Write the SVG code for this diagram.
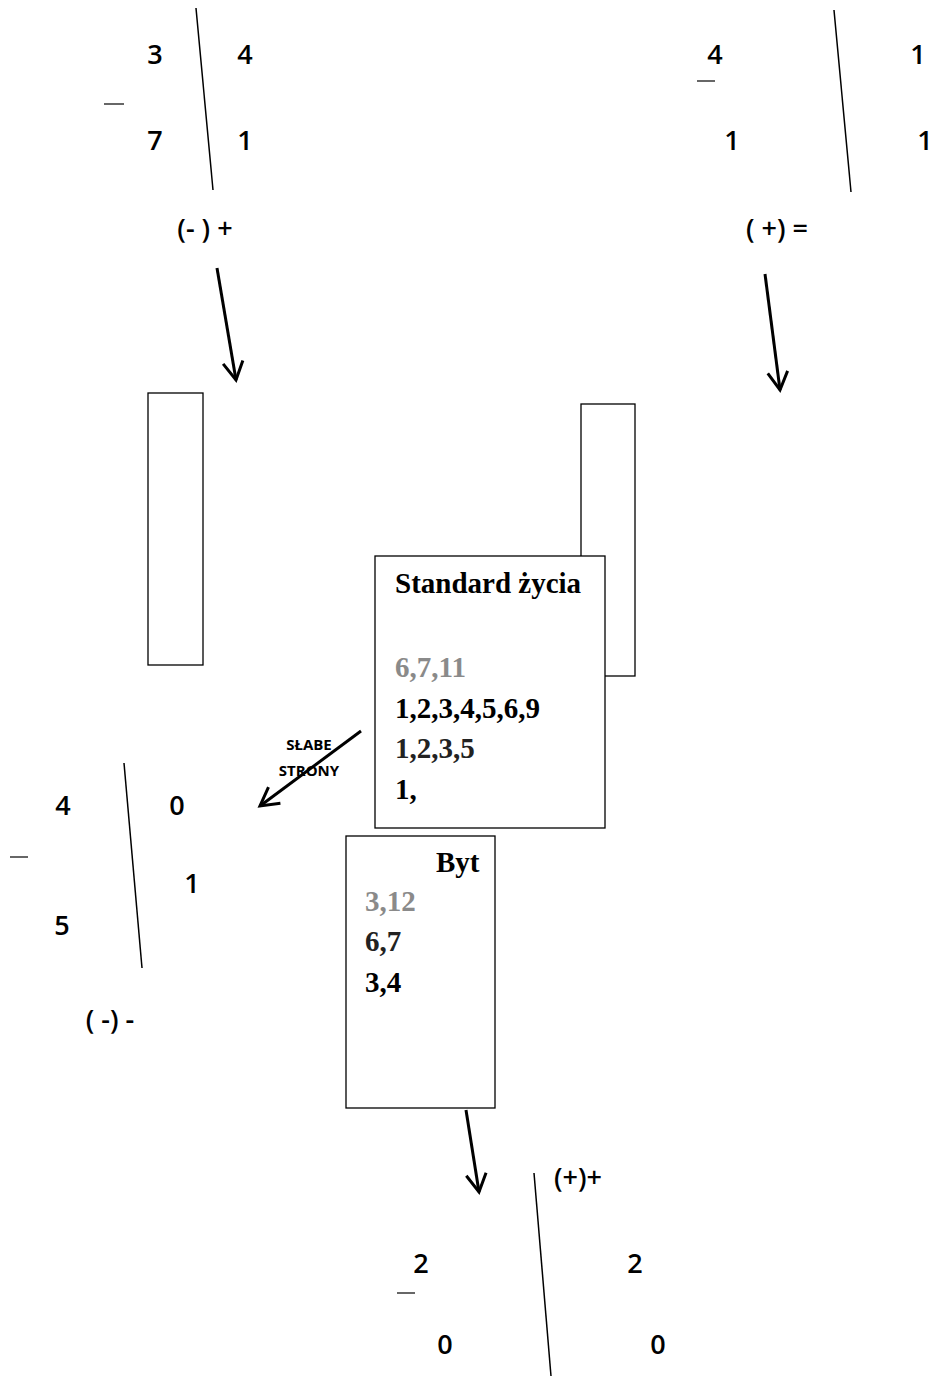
<svg xmlns="http://www.w3.org/2000/svg" width="935" height="1376" viewBox="0 0 935 1376">
<style>
.n{font-family:"Open Sans","Liberation Sans",sans-serif;font-size:27px;font-weight:600;fill:#000;text-anchor:middle}
.s{font-family:"Liberation Serif","Times New Roman",serif;font-size:29px;font-weight:bold;fill:#000}
.g{fill:#8a8a8a}
.d{fill:#222}
.lbl{font-family:"Open Sans","Liberation Sans",sans-serif;font-size:15px;font-weight:700;fill:#000;text-anchor:middle}
.ln{stroke:#000;stroke-width:1.5;fill:none}
.bx{fill:#fff;stroke:#000;stroke-width:1.3}
.ar{stroke:#000;stroke-width:3;fill:none}
.dash{stroke:#000;stroke-width:1.2}
</style>
<defs>
<marker id="ah" markerWidth="12" markerHeight="12" refX="10" refY="6" orient="auto" markerUnits="userSpaceOnUse" viewBox="0 0 12 12" overflow="visible">
<path d="M-8,-4 L10,6 L-8,16" fill="none" stroke="#000" stroke-width="3"/>
</marker>
</defs>
<g id="group-top-left">
<line class="ln" x1="196" y1="8" x2="213" y2="190"/>
<text class="n" x="155" y="64">3</text>
<text class="n" x="245" y="64">4</text>
<line class="dash" x1="104" y1="104" x2="124" y2="104"/>
<text class="n" x="155" y="150">7</text>
<text class="n" x="245" y="150">1</text>
<text class="n" x="205" y="238" font-weight="bold" font-size="29">(- ) +</text>
</g>
<g id="group-top-right">
<line class="ln" x1="834" y1="10" x2="851" y2="192"/>
<text class="n" x="715" y="64">4</text>
<line class="dash" x1="697" y1="81" x2="715" y2="81"/>
<text class="n" x="918" y="64">1</text>
<text class="n" x="732" y="150">1</text>
<text class="n" x="925" y="150">1</text>
<text class="n" x="777" y="238" font-size="28">( +) =</text>
</g>
<g id="rect-left"><rect class="bx" x="148" y="393" width="55" height="272"/></g>
<g id="rect-right"><rect class="bx" x="581" y="404" width="54" height="272"/></g>
<g id="standard-zycia">
<rect class="bx" x="375" y="556" width="230" height="272"/>
<text class="s" x="395" y="593" font-size="30">Standard życia</text>
<text class="s g" x="395" y="677" font-weight="normal">6,7,11</text>
<text class="s" x="395" y="718">1,2,3,4,5,6,9</text>
<text class="s d" x="395" y="758">1,2,3,5</text>
<text class="s" x="395" y="799">1,</text>
</g>
<g id="byt">
<rect class="bx" x="346" y="836" width="149" height="272"/>
<text class="s" x="436" y="872">Byt</text>
<text class="s g" x="365" y="911" font-weight="normal">3,12</text>
<text class="s d" x="365" y="951">6,7</text>
<text class="s" x="365" y="992">3,4</text>
</g>
<g id="group-bottom-left">
<line class="ln" x1="124" y1="763" x2="142" y2="968"/>
<text class="n" x="63" y="815">4</text>
<text class="n" x="177" y="815">0</text>
<line class="dash" x1="10" y1="857" x2="28" y2="857"/>
<text class="n" x="192" y="893">1</text>
<text class="n" x="62" y="935">5</text>
<text class="n" x="110" y="1029" font-size="28">( -) -</text>
</g>
<g id="group-bottom">
<line class="ln" x1="534" y1="1173" x2="551" y2="1376"/>
<text class="n" x="578" y="1187" font-size="28">(+)+</text>
<text class="n" x="421" y="1273">2</text>
<line class="dash" x1="397" y1="1293" x2="415" y2="1293"/>
<text class="n" x="635" y="1273">2</text>
<text class="n" x="445" y="1354">0</text>
<text class="n" x="658" y="1354">0</text>
</g>
<g id="connectors">
<line class="ar" x1="217" y1="268" x2="236" y2="380" marker-end="url(#ah)"/>
<line class="ar" x1="765" y1="274" x2="780" y2="390" marker-end="url(#ah)"/>
<line class="ar" x1="361" y1="731" x2="260" y2="806" stroke-width="2" marker-end="url(#ah)"/>
<line class="ar" x1="466" y1="1110" x2="479" y2="1192" marker-end="url(#ah)"/>
<text class="lbl" x="309" y="750">SŁABE</text>
<text class="lbl" x="309" y="776">STRONY</text>
</g>
</svg>
